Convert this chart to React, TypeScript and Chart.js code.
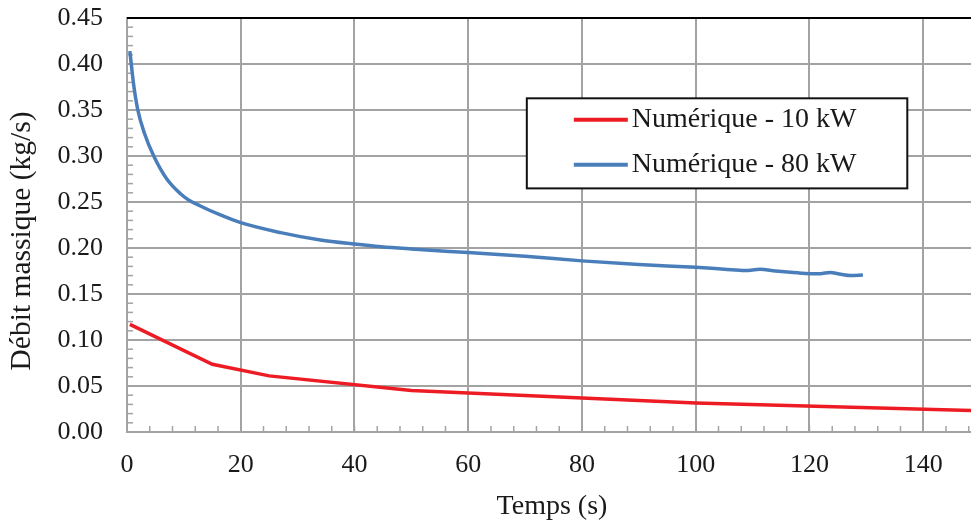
import React, { useEffect, useRef } from "react";
import { Chart, registerables } from "chart.js";

Chart.register(...registerables);

const seriesLabels = ["Numérique - 10 kW", "Numérique - 80 kW"];
const seriesColors = ["#ED1C24", "#4A7EBB"];
const xTitle = "Temps (s)";
const yTitle = "Débit massique (kg/s)";

const redX = [0.5, 15, 25, 50, 100, 150];
const redY = [0.117, 0.0736, 0.061, 0.045, 0.0315, 0.0232];

const blueX = [0.5, 0.75, 1.2, 1.9, 3.05, 4.7, 7.0, 9.4, 10.9, 12.9, 16, 20, 27, 34, 40, 44.7, 50, 60, 70, 80, 90, 100, 105, 108.7, 111.3, 114, 118, 121.9, 123.6, 125.5, 127.2, 129.4];
const blueY = [0.414, 0.4, 0.376, 0.35, 0.325, 0.3, 0.275, 0.259, 0.252, 0.2457, 0.237, 0.2275, 0.2167, 0.2087, 0.2043, 0.2014, 0.199, 0.195, 0.191, 0.186, 0.182, 0.179, 0.177, 0.1755, 0.1768, 0.175, 0.173, 0.172, 0.1735, 0.1715, 0.17, 0.1707];

const xTickValues = [0, 20, 40, 60, 80, 100, 120, 140];
const yTickValues = [0, 0.05, 0.1, 0.15, 0.2, 0.25, 0.3, 0.35, 0.4, 0.45];

const FONT = "'Liberation Serif', 'DejaVu Serif', serif";
const TEXT = "#1a1a1a";
const GRID = "#A3A3A3";

const extrasPlugin = {
  id: "extras",
  beforeDatasetsDraw(chart: any) {
    const { ctx, chartArea, scales } = chart;
    const xs = scales.x;
    const ys = scales.y;
    ctx.save();
    ctx.strokeStyle = GRID;
    ctx.lineWidth = 1.5;
    for (let v = 0; v <= xs.max + 0.001; v += 4) {
      const px = xs.getPixelForValue(v);
      ctx.beginPath();
      ctx.moveTo(px, chartArea.bottom);
      ctx.lineTo(px, chartArea.bottom - 6);
      ctx.stroke();
    }
    for (let i = 0; i <= 45; i++) {
      const py = ys.getPixelForValue(i / 100);
      ctx.beginPath();
      ctx.moveTo(chartArea.left, py);
      ctx.lineTo(chartArea.left + 6, py);
      ctx.stroke();
    }
    ctx.strokeStyle = "#000";
    ctx.lineWidth = 2;
    ctx.beginPath();
    ctx.moveTo(chartArea.left, chartArea.top);
    ctx.lineTo(chartArea.right, chartArea.top);
    ctx.stroke();
    ctx.restore();
  },
  afterDraw(chart: any) {
    const { ctx, scales, chartArea } = chart;
    const xs = scales.x;
    const ys = scales.y;
    ctx.save();
    // axis titles
    ctx.fillStyle = TEXT;
    ctx.textAlign = "center";
    ctx.textBaseline = "middle";
    ctx.font = `28px ${FONT}`;
    ctx.fillText(xTitle, (chartArea.left + chartArea.right) / 2 + 3, 507);
    ctx.save();
    ctx.translate(22, (chartArea.top + chartArea.bottom) / 2 + 16);
    ctx.rotate(-Math.PI / 2);
    ctx.font = `29.5px ${FONT}`;
    ctx.fillText(yTitle, 0, 0);
    ctx.restore();
    // legend
    const left = xs.getPixelForValue(70.3);
    const right = xs.getPixelForValue(137.2);
    const top = ys.getPixelForValue(0.3627);
    const bottom = ys.getPixelForValue(0.2648);
    ctx.fillStyle = "#fff";
    ctx.fillRect(left, top, right - left, bottom - top);
    ctx.strokeStyle = "#111";
    ctx.lineWidth = 2;
    ctx.strokeRect(left, top, right - left, bottom - top);
    ctx.font = `28px ${FONT}`;
    ctx.textAlign = "left";
    ctx.textBaseline = "middle";
    ctx.fillStyle = TEXT;
    const rowH = (bottom - top) / 2;
    chart.data.datasets.forEach((ds: any, i: number) => {
      const cy = top + rowH * (i + 0.5) - 1;
      ctx.strokeStyle = ds.borderColor;
      ctx.lineWidth = 4;
      ctx.beginPath();
      ctx.moveTo(left + 47, cy);
      ctx.lineTo(left + 101, cy);
      ctx.stroke();
      ctx.fillText(ds.label, left + 105, cy);
    });
    ctx.restore();
  },
};

export default function App() {
  const ref = useRef<HTMLCanvasElement | null>(null);
  useEffect(() => {
    document.body.style.margin = "0";
    const canvas = ref.current!;
    const chart = new Chart(canvas, {
      type: "line",
      data: {
        datasets: [
          {
            label: seriesLabels[0],
            data: redX.map((x, i) => ({ x, y: redY[i] })),
            borderColor: seriesColors[0],
            backgroundColor: seriesColors[0],
            borderWidth: 3.5,
            pointRadius: 0,
            tension: 0,
          },
          {
            label: seriesLabels[1],
            data: blueX.map((x, i) => ({ x, y: blueY[i] })),
            borderColor: seriesColors[1],
            backgroundColor: seriesColors[1],
            borderWidth: 3.5,
            pointRadius: 0,
            cubicInterpolationMode: "monotone",
          },
        ],
      },
      options: {
        animation: false,
        responsive: false,
        maintainAspectRatio: false,
        layout: { padding: { top: 18, right: 0, left: 0, bottom: 0 } },
        plugins: { legend: { display: false }, tooltip: { enabled: false } },
        scales: {
          x: {
            type: "linear",
            min: 0,
            max: 148.4,
            afterBuildTicks: (axis: any) => {
              axis.ticks = xTickValues.map((v) => ({ value: v }));
            },
            afterFit: (axis: any) => {
              axis.height = 93;
              axis.paddingLeft = 0;
              axis.paddingRight = 0;
              axis.paddingTop = 0;
              axis.paddingBottom = 0;
            },
            grid: { color: GRID, lineWidth: 2, tickLength: 0, drawTicks: false },
            border: { color: GRID, width: 2 },
            ticks: {
              color: TEXT,
              font: { family: FONT, size: 26 },
              padding: 18,
              maxRotation: 0,
              callback: (v: any) => String(v),
            },
            title: { display: false },
          },
          y: {
            type: "linear",
            min: 0,
            max: 0.45,
            afterBuildTicks: (axis: any) => {
              axis.ticks = yTickValues.map((v) => ({ value: v }));
            },
            afterFit: (axis: any) => {
              axis.width = 127;
              axis.paddingLeft = 0;
              axis.paddingRight = 0;
              axis.paddingTop = 0;
              axis.paddingBottom = 0;
            },
            grid: { color: GRID, lineWidth: 2, tickLength: 0, drawTicks: false },
            border: { color: GRID, width: 2 },
            ticks: {
              color: TEXT,
              font: { family: FONT, size: 26 },
              padding: 24,
              callback: (v: any) => Number(v).toFixed(2),
            },
            title: { display: false },
          },
        },
      } as any,
      plugins: [extrasPlugin],
    });
    return () => chart.destroy();
  }, []);
  return (
    <div style={{ width: 971, height: 525 }}>
      <canvas ref={ref} width={971} height={525} style={{ display: "block" }} />
    </div>
  );
}
